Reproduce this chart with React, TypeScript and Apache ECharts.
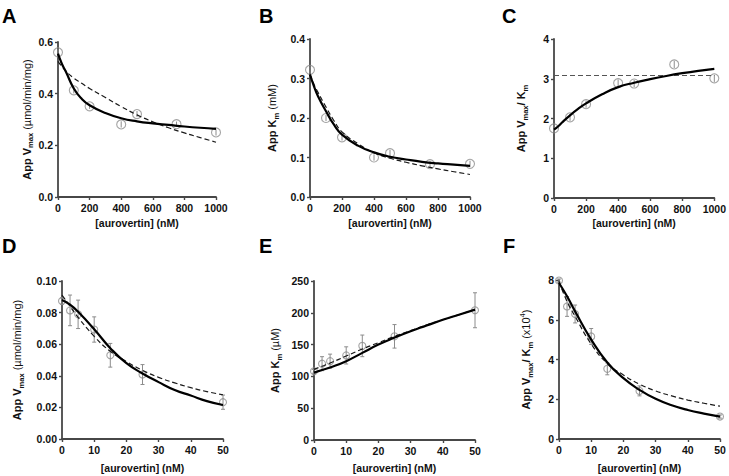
import React, { useEffect, useRef } from "react";
import * as echarts from "echarts";

// ---------- Top row (A, B, C): aurovertin 0–1000 nM ----------
const xTop = [0, 100, 200, 400, 500, 750, 1000];
const vmaxA = [0.56, 0.413, 0.351, 0.281, 0.321, 0.282, 0.25];
const vmaxAErr = [0.012, 0.012, 0.01, 0.012, 0.012, 0.01, 0.012];
const kmB = [0.322, 0.2, 0.151, 0.1, 0.111, 0.083, 0.084];
const kmBErr = [0.009, 0.008, 0.008, 0.008, 0.008, 0.008, 0.008];
const ratioC = [1.75, 2.03, 2.36, 2.89, 2.88, 3.36, 3.01];
const ratioCErr = [0.09, 0.09, 0.09, 0.09, 0.09, 0.09, 0.09];

const curveXTop = [0, 25, 50, 100, 150, 200, 300, 400, 500, 600, 700, 800, 900, 1000];
const solidA = [0.555, 0.515, 0.485, 0.42, 0.38, 0.355, 0.325, 0.305, 0.293, 0.285, 0.279, 0.273, 0.268, 0.264];
const dashedA = [0.525, 0.505, 0.487, 0.46, 0.44, 0.42, 0.385, 0.35, 0.318, 0.291, 0.268, 0.248, 0.23, 0.212];
const solidB = [0.31, 0.28, 0.255, 0.217, 0.183, 0.158, 0.13, 0.113, 0.102, 0.095, 0.089, 0.085, 0.082, 0.079];
const dashedB = [0.31, 0.285, 0.265, 0.228, 0.193, 0.165, 0.135, 0.112, 0.098, 0.088, 0.079, 0.071, 0.064, 0.057];
const solidC = [1.72, 1.8, 1.9, 2.08, 2.24, 2.38, 2.61, 2.79, 2.9, 2.99, 3.07, 3.14, 3.2, 3.25];
const dashedCLevel = 3.08;

// ---------- Bottom row (D, E, F): aurovertin 0–50 nM ----------
const xBottom = [0, 2.5, 5, 10, 15, 25, 50];
const vmaxD = [0.0873, 0.0814, 0.0789, 0.0693, 0.053, 0.0408, 0.0233];
const vmaxDErr = [0.002, 0.0097, 0.009, 0.008, 0.0075, 0.0063, 0.0045];
const kmE = [108, 120, 124, 133, 148, 163, 204];
const kmEErr = [3, 11, 11, 13.5, 17, 18.5, 27.5];
const ratioF = [7.97, 6.67, 6.29, 5.16, 3.53, 2.42, 1.13];
const ratioFErr = [0.08, 0.5, 0.45, 0.4, 0.3, 0.25, 0.08];

const curveXBottom = [0, 2.5, 5, 10, 15, 20, 25, 30, 35, 40, 45, 50];
const solidD = [0.088, 0.085, 0.0805, 0.0695, 0.0575, 0.048, 0.0415, 0.036, 0.031, 0.0275, 0.024, 0.0215];
const dashedD = [0.091, 0.084, 0.077, 0.065, 0.0555, 0.049, 0.0435, 0.039, 0.0355, 0.0325, 0.03, 0.028];
const solidE = [106, 110, 114, 124, 137, 150, 161, 171, 180, 189, 197, 205];
const dashedE = [111, 116, 121, 132, 143, 153, 163, 172, 181, 189, 197, 205];
const solidF = [7.85, 7.18, 6.42, 5.0, 3.85, 3.06, 2.47, 2.02, 1.7, 1.46, 1.28, 1.13];
const dashedF = [7.93, 6.92, 6.17, 4.78, 3.8, 3.22, 2.76, 2.42, 2.17, 1.96, 1.8, 1.65];

const panelLetters = ["A", "B", "C", "D", "E", "F"];
const xTitle = "[aurovertin] (nM)";

const FONT = "'Liberation Sans', Arial, Helvetica, sans-serif";
const AXIS_COLOR = "#474747";
const POINT_COLOR = "#8c8c8c";

const richStyles = {
  b: { fontSize: 11, fontWeight: "bold", fontFamily: FONT, color: "#111", lineHeight: 16 },
  n: { fontSize: 11, fontWeight: "normal", fontFamily: FONT, color: "#111", lineHeight: 16 },
  sub: { fontSize: 7.5, fontWeight: "bold", fontFamily: FONT, color: "#111", lineHeight: 8, verticalAlign: "bottom" },
  sup: { fontSize: 7.5, fontWeight: "normal", fontFamily: FONT, color: "#111", lineHeight: 8, verticalAlign: "top" },
};

type PanelDef = {
  grid: { left: number; top: number; width: number; height: number };
  xMax: number;
  xInterval: number;
  yMax: number;
  yInterval: number;
  yDecimals: number;
  yName: string;
  yNameGap: number;
  xNameGap: number;
  xs: number[];
  ys: number[];
  errs: number[];
  curveX: number[];
  solid: number[];
  dashed: number[] | null;
  dashedLevel?: number;
  symbolSize: number;
  capWidth: number;
};

const panels: PanelDef[] = [
  {
    grid: { left: 58, top: 42, width: 158, height: 155 },
    xMax: 1000, xInterval: 200, yMax: 0.6, yInterval: 0.2, yDecimals: 1,
    yName: "{b|App V}{sub|max}{n| (µmol/min/mg)}", yNameGap: 21, xNameGap: 20,
    xs: xTop, ys: vmaxA, errs: vmaxAErr, curveX: curveXTop, solid: solidA, dashed: dashedA,
    symbolSize: 9, capWidth: 0,
  },
  {
    grid: { left: 310, top: 39, width: 160, height: 158 },
    xMax: 1000, xInterval: 200, yMax: 0.4, yInterval: 0.1, yDecimals: 1,
    yName: "{b|App K}{sub|m}{n| (mM)}", yNameGap: 30, xNameGap: 20,
    xs: xTop, ys: kmB, errs: kmBErr, curveX: curveXTop, solid: solidB, dashed: dashedB,
    symbolSize: 9, capWidth: 0,
  },
  {
    grid: { left: 554, top: 39, width: 161, height: 159 },
    xMax: 1000, xInterval: 200, yMax: 4, yInterval: 1, yDecimals: 0,
    yName: "{b|App V}{sub|max}{b|/ K}{sub|m}", yNameGap: 25, xNameGap: 19,
    xs: xTop, ys: ratioC, errs: ratioCErr, curveX: curveXTop, solid: solidC, dashed: null,
    dashedLevel: dashedCLevel, symbolSize: 9, capWidth: 0,
  },
  {
    grid: { left: 62, top: 281, width: 161, height: 158 },
    xMax: 50, xInterval: 10, yMax: 0.1, yInterval: 0.02, yDecimals: 2,
    yName: "{b|App V}{sub|max}{n| (µmol/min/mg)}", yNameGap: 37, xNameGap: 23,
    xs: xBottom, ys: vmaxD, errs: vmaxDErr, curveX: curveXBottom, solid: solidD, dashed: dashedD,
    symbolSize: 7, capWidth: 2,
  },
  {
    grid: { left: 314, top: 281, width: 161, height: 159 },
    xMax: 50, xInterval: 10, yMax: 250, yInterval: 50, yDecimals: 0,
    yName: "{b|App K}{sub|m}{n| (µM)}", yNameGap: 31, xNameGap: 22,
    xs: xBottom, ys: kmE, errs: kmEErr, curveX: curveXBottom, solid: solidE, dashed: dashedE,
    symbolSize: 7, capWidth: 2,
  },
  {
    grid: { left: 559, top: 280, width: 161, height: 159 },
    xMax: 50, xInterval: 10, yMax: 8, yInterval: 2, yDecimals: 0,
    yName: "{b|App V}{sub|max}{b|/ K}{sub|m}{n| (x10}{sup|4}{n|)}", yNameGap: 25, xNameGap: 23,
    xs: xBottom, ys: ratioF, errs: ratioFErr, curveX: curveXBottom, solid: solidF, dashed: dashedF,
    symbolSize: 7, capWidth: 2,
  },
];

const letterPos = [
  { x: 2, y: 6 },
  { x: 259, y: 6 },
  { x: 502, y: 6 },
  { x: 2, y: 236 },
  { x: 259, y: 236 },
  { x: 503, y: 236 },
];

function buildOption() {
  const grids: any[] = [];
  const xAxes: any[] = [];
  const yAxes: any[] = [];
  const series: any[] = [];

  panels.forEach((p, i) => {
    grids.push({ ...p.grid, containLabel: false });
    xAxes.push({
      gridIndex: i,
      type: "value",
      min: 0,
      max: p.xMax,
      interval: p.xInterval,
      name: xTitle,
      nameLocation: "middle",
      nameGap: p.xNameGap,
      nameTextStyle: { fontSize: 10.5, fontWeight: "bold", fontFamily: FONT, color: "#111" },
      axisLine: { show: true, onZero: false, lineStyle: { color: AXIS_COLOR, width: 1.8 } },
      axisTick: { show: true, length: 3, lineStyle: { color: AXIS_COLOR, width: 1.4 } },
      axisLabel: {
        fontSize: 10.5,
        fontWeight: "bold",
        fontFamily: FONT,
        color: "#111",
        margin: 5,
        formatter: (v: number) => String(v),
      },
      splitLine: { show: false },
    });
    yAxes.push({
      gridIndex: i,
      type: "value",
      min: 0,
      max: p.yMax,
      interval: p.yInterval,
      name: p.yName,
      nameLocation: "middle",
      nameGap: p.yNameGap,
      nameTextStyle: { rich: richStyles },
      axisLine: { show: true, onZero: false, lineStyle: { color: AXIS_COLOR, width: 1.8 } },
      axisTick: { show: true, length: 3, lineStyle: { color: AXIS_COLOR, width: 1.4 } },
      axisLabel: {
        fontSize: 10.5,
        fontWeight: "bold",
        fontFamily: FONT,
        color: "#111",
        margin: 5,
        formatter: (v: number) => v.toFixed(p.yDecimals),
      },
      splitLine: { show: false },
    });

    // error bars
    const cap = p.capWidth;
    series.push({
      type: "custom",
      xAxisIndex: i,
      yAxisIndex: i,
      z: 2,
      clip: false,
      encode: { x: 0, y: 1 },
      data: p.xs.map((x, k) => [x, p.ys[k], p.errs[k]]),
      renderItem: (_params: any, api: any) => {
        const x = api.value(0);
        const y = api.value(1);
        const e = api.value(2);
        const t = api.coord([x, y + e]);
        const b = api.coord([x, y - e]);
        const st = { stroke: POINT_COLOR, lineWidth: 1 };
        const children: any[] = [
          { type: "line", shape: { x1: t[0], y1: t[1], x2: b[0], y2: b[1] }, style: st },
        ];
        if (cap > 0) {
          children.push({ type: "line", shape: { x1: t[0] - cap, y1: t[1], x2: t[0] + cap, y2: t[1] }, style: st });
          children.push({ type: "line", shape: { x1: b[0] - cap, y1: b[1], x2: b[0] + cap, y2: b[1] }, style: st });
        }
        return { type: "group", children };
      },
    });

    // data points
    series.push({
      type: "scatter",
      xAxisIndex: i,
      yAxisIndex: i,
      z: 3,
      clip: false,
      symbol: "circle",
      symbolSize: p.symbolSize,
      itemStyle: { color: "rgba(255,255,255,0)", borderColor: POINT_COLOR, borderWidth: 1.1 },
      data: p.xs.map((x, k) => [x, p.ys[k]]),
    });

    // dashed fit
    if (p.dashed) {
      series.push({
        type: "line",
        xAxisIndex: i,
        yAxisIndex: i,
        z: 4,
        smooth: 0.5,
        showSymbol: false,
        symbol: "none",
        lineStyle: { color: "#1a1a1a", width: 1.2, type: [5, 3] },
        data: p.curveX.map((x, k) => [x, (p.dashed as number[])[k]]),
      });
    } else if (p.dashedLevel != null) {
      series.push({
        type: "line",
        xAxisIndex: i,
        yAxisIndex: i,
        z: 4,
        showSymbol: false,
        symbol: "none",
        lineStyle: { color: "#555", width: 1.1, type: [5, 3] },
        data: [
          [0, p.dashedLevel],
          [p.xMax, p.dashedLevel],
        ],
      });
    }

    // solid fit
    series.push({
      type: "line",
      xAxisIndex: i,
      yAxisIndex: i,
      z: 5,
      smooth: 0.5,
      showSymbol: false,
      symbol: "none",
      lineStyle: { color: "#000", width: 2.2 },
      data: p.curveX.map((x, k) => [x, p.solid[k]]),
    });
  });

  const graphic = panelLetters.map((L, i) => ({
    type: "text",
    left: letterPos[i].x,
    top: letterPos[i].y,
    style: { text: L, fontSize: 20, fontWeight: "bold", fontFamily: FONT, fill: "#000" },
  }));

  return {
    animation: false,
    backgroundColor: "#fff",
    grid: grids,
    xAxis: xAxes,
    yAxis: yAxes,
    series,
    graphic,
  };
}

export default function App() {
  const ref = useRef<HTMLDivElement>(null);
  useEffect(() => {
    document.body.style.margin = "0";
    if (!ref.current) return;
    const chart = echarts.init(ref.current, undefined, { renderer: "svg" });
    chart.setOption(buildOption() as any);
    return () => chart.dispose();
  }, []);
  return <div ref={ref} style={{ width: 729, height: 476, position: "absolute", left: 0, top: 0 }} />;
}
